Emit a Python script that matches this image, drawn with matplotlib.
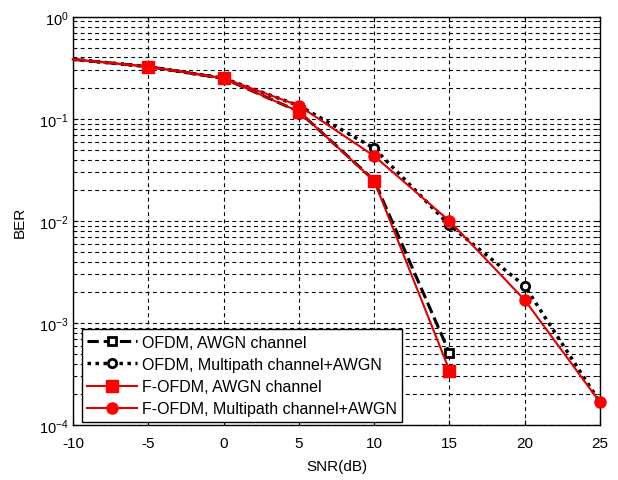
import matplotlib
matplotlib.use('Agg')
import matplotlib.pyplot as plt
import numpy as np

plt.rcParams['font.family'] = ['Liberation Sans', 'DejaVu Sans']
plt.rcParams['mathtext.default'] = 'regular'
plt.rcParams['axes.unicode_minus'] = False

# SNR points (dB)
snr_awgn = [-10, -5, 0, 5, 10, 15]
snr_mp = [-10, -5, 0, 5, 10, 15, 20, 25]

# BER values
ber_ofdm_awgn = [0.383, 0.325, 0.25, 0.118, 0.0250, 5.1e-4]
ber_ofdm_mp = [0.383, 0.325, 0.25, 0.135, 0.0516, 0.0091, 2.31e-3, 1.67e-4]
ber_fofdm_awgn = [0.383, 0.325, 0.25, 0.118, 0.0248, 3.43e-4]
ber_fofdm_mp = [0.383, 0.325, 0.25, 0.135, 0.0433, 0.0100, 1.68e-3, 1.67e-4]

labels = ['OFDM, AWGN channel', 'OFDM, Multipath channel+AWGN',
          'F-OFDM, AWGN channel', 'F-OFDM, Multipath channel+AWGN']

fig = plt.figure(figsize=(6.18, 4.81), dpi=100)
ax = fig.add_axes([0.118, 0.114, 0.853, 0.849])

ax.semilogy(snr_awgn, ber_ofdm_awgn, 'k--', marker='s', mfc='white', mec='k',
            mew=2, ms=6, lw=2.2, markevery=range(1, len(snr_awgn)),
            label=labels[0], clip_on=False, zorder=3)
ax.semilogy(snr_mp, ber_ofdm_mp, 'k', linestyle=(0, (1, 1.3)), marker='o',
            mfc='white', mec='k', mew=2, ms=6, lw=2.5,
            markevery=range(1, len(snr_mp)), label=labels[1],
            clip_on=False, zorder=3)
ax.semilogy(snr_awgn, ber_fofdm_awgn, '-', color='#e00000', marker='s',
            mfc='#ff0000', mec='#ff0000', ms=8, lw=1.5,
            markevery=range(1, len(snr_awgn)), label=labels[2],
            clip_on=False, zorder=4)
ax.semilogy(snr_mp, ber_fofdm_mp, '-', color='#e00000', marker='o',
            mfc='#ff0000', mec='#ff0000', ms=8, lw=1.5,
            markevery=range(1, len(snr_mp)), label=labels[3],
            clip_on=False, zorder=4)

ax.set_xlim(-10, 25)
ax.set_ylim(1e-4, 1)
ax.set_xticks(np.arange(-10, 26, 5))
ax.set_xlabel('SNR(dB)', fontsize=11, labelpad=6)
ax.set_ylabel('BER', fontsize=11, labelpad=9)
ax.tick_params(which='both', direction='in', top=True, right=True, labelsize=11)
ax.tick_params(axis='x', pad=8)
ax.tick_params(axis='y', pad=3, labelsize=10.5)
ax.grid(True, which='major', color='k', linestyle=(0, (3.5, 3)), lw=0.8)
ax.grid(True, which='minor', axis='y', color='k', linestyle=(0, (3.5, 3)), lw=0.8)
for s in ax.spines.values():
    s.set_linewidth(1.0)

leg = ax.legend(loc='lower left', bbox_to_anchor=(0.017, 0.008), fontsize=11.5,
                fancybox=False, framealpha=1, edgecolor='k', borderaxespad=0,
                handlelength=3.1, handletextpad=0.3, labelspacing=0.45,
                borderpad=0.35)
leg.get_frame().set_linewidth(1.0)

fig.savefig('out.png', dpi=100)
